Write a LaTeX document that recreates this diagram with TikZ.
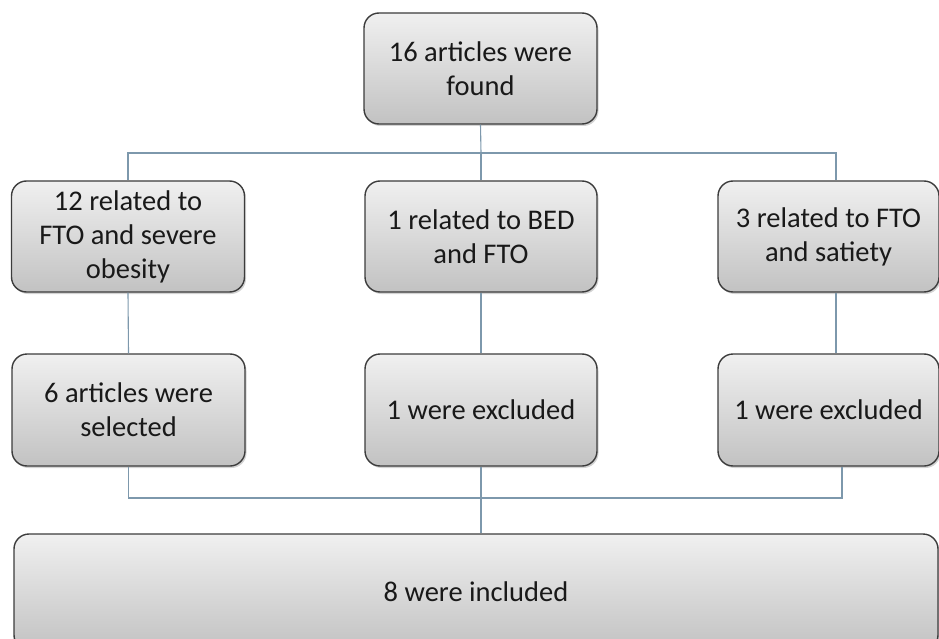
\documentclass[tikz,border=0pt]{standalone}
\usepackage{fontspec}
\setmainfont{Carlito}
\usetikzlibrary{shadows,calc}
\definecolor{boxtop}{RGB}{240,240,240}
\definecolor{boxbot}{RGB}{194,194,194}
\definecolor{boxline}{RGB}{60,60,60}
\definecolor{linkc}{RGB}{125,152,172}
\definecolor{txt}{RGB}{25,25,25}
\tikzset{
  flowbox/.style={draw=boxline, line width=1.4pt, rounded corners=15pt,
    top color=boxtop, bottom color=boxbot, text=txt, align=center,
    font=\fontsize{28.5}{34}\selectfont, inner sep=0pt,
    drop shadow={shadow xshift=1.5pt, shadow yshift=-2pt, opacity=0.35}},
  link/.style={draw=linkc, line width=1.1pt}
}
\begin{document}
\begin{tikzpicture}[x=1pt,y=-1pt]
\useasboundingbox (0,0) rectangle (939,639);
\clip (0,0) rectangle (939,639);
\node[flowbox, minimum width=233pt, minimum height=111pt] (top) at (480.5,68.5) {16 articles were\\found};
\node[flowbox, minimum width=233pt, minimum height=111pt] (a2) at (128,236.5) {12 related to\\FTO and severe\\obesity};
\node[flowbox, minimum width=232pt, minimum height=111pt] (b2) at (481,236.5) {1 related to BED\\and FTO};
\node[flowbox, minimum width=221pt, minimum height=111pt] (c2) at (828.5,236.5) {3 related to FTO\\and satiety};
\node[flowbox, minimum width=233pt, minimum height=112pt] (a3) at (128.5,410) {6 articles were\\selected};
\node[flowbox, minimum width=232pt, minimum height=112pt] (b3) at (481,410) {1 were excluded};
\node[flowbox, minimum width=221pt, minimum height=112pt] (c3) at (828.5,410) {1 were excluded};
\node[flowbox, minimum width=924pt, minimum height=116pt] (d) at (476,592) {8 were included};
\coordinate (bus1) at (481,153);
\coordinate (bus2) at (481,498);
\draw[link] (top.south) -- (bus1);
\draw[link] (a2.north) |- (bus1) -| ([xshift=7.5pt]c2.north);
\draw[link] (bus1) -- (b2.north);
\draw[link] (a2.south) -- (a3.north);
\draw[link] (b2.south) -- (b3.north);
\draw[link] ([xshift=7.5pt]c2.south) -- ([xshift=7.5pt]c3.north);
\draw[link] (a3.south) |- (bus2) -| ([xshift=13.5pt]c3.south);
\draw[link] (b3.south) -- (bus2) -- (d.north -| bus2);
\end{tikzpicture}
\end{document}
